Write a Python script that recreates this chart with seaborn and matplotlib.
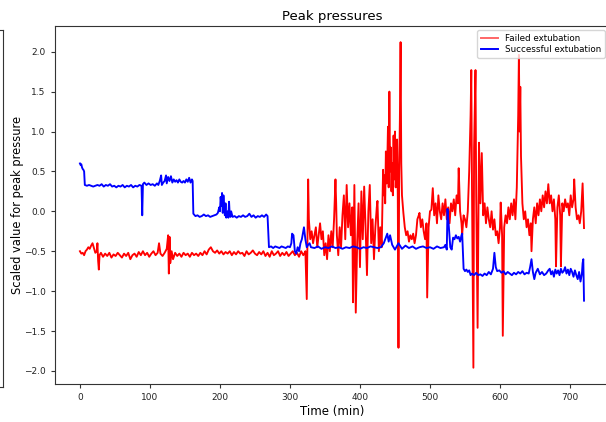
import matplotlib
matplotlib.use("Agg")
import matplotlib.pyplot as plt
import seaborn as sns
import pandas as pd

# ---- data ----
failed_time = [
    0, 2, 4, 6, 8, 10, 12, 14, 16, 18, 20, 22, 24, 25, 26, 27, 28, 30, 33, 36, 39, 42, 45, 48, 51, 54, 57, 60,
    63, 66, 69, 72, 75, 78, 81, 84, 87, 90, 93, 96, 99, 102, 105, 108, 111, 113, 115, 118, 121, 124, 126, 127,
    128, 129, 131, 133, 136, 139, 142, 145, 148, 151, 154, 157, 160, 163, 166, 169, 172, 175, 178, 181, 184,
    187, 190, 193, 196, 199, 202, 205, 208, 211, 214, 217, 220, 223, 226, 229, 232, 235, 238, 241, 244, 247,
    250, 253, 256, 259, 262, 265, 268, 271, 274, 277, 280, 283, 286, 289, 292, 295, 298, 301, 304, 307, 310,
    313, 316, 319, 321,
    322, 324, 326, 327, 329, 331, 333, 335, 337, 339, 341, 343, 345, 347, 349, 351, 353, 355, 357, 359, 361,
    363, 365, 366, 367, 369, 371, 373, 375, 377, 379, 381, 383, 385, 387, 389, 390, 392, 394, 396, 398, 400,
    402, 404, 406, 408, 410, 412, 414, 416, 418, 420, 422, 424, 425, 427, 429, 431,
    433, 434, 435, 436, 437, 438, 439, 440, 441, 442, 443, 444, 445, 446, 447, 448, 449, 450, 451, 452, 453,
    454, 455, 456, 457, 458, 459, 460,
    462, 464, 466, 468, 470, 472, 474, 476,
    478, 480, 482, 484, 485, 487, 489, 491, 493, 495, 496, 498, 500, 502, 504, 506, 508, 510, 512, 514, 516,
    518, 520, 522, 524, 526, 528, 530, 532, 534, 536, 538, 540, 541, 543, 545, 546, 548, 550, 552, 554, 556,
    558, 559, 560, 562, 563, 565, 566, 568, 570, 572, 574, 576, 578, 580, 582, 584, 586, 588, 590, 592, 594,
    596, 598, 600, 601, 603, 604, 606, 608, 610, 612, 614, 616, 618, 620, 622, 624, 626, 627, 628, 629, 630,
    632, 634, 636, 638, 640, 642, 644, 645, 647, 649, 651, 653, 655, 657, 659, 661, 663, 665, 667, 669, 671,
    673, 675, 677, 679, 680, 682, 684, 686, 687, 689, 691, 693, 695, 697, 699, 701, 703, 705, 706, 708, 710,
    712, 714, 716, 718, 720,
]
failed_value = [
    -0.50, -0.53, -0.52, -0.55, -0.50, -0.48, -0.45, -0.47, -0.43, -0.40, -0.46, -0.52, -0.50, -0.40, -0.62,
    -0.73, -0.55, -0.52, -0.57, -0.53, -0.56, -0.52, -0.58, -0.54, -0.56, -0.52, -0.55, -0.58, -0.53, -0.56,
    -0.52, -0.60, -0.55, -0.53, -0.57, -0.51, -0.55, -0.50, -0.55, -0.52, -0.57, -0.53, -0.50, -0.55, -0.52,
    -0.40, -0.53, -0.56, -0.52, -0.47, -0.30, -0.78, -0.32, -0.65, -0.50, -0.60, -0.52, -0.56, -0.53, -0.57,
    -0.52, -0.55, -0.53, -0.57, -0.52, -0.55, -0.53, -0.56, -0.52, -0.55, -0.50, -0.54, -0.48, -0.45, -0.50,
    -0.52, -0.49, -0.53, -0.50, -0.54, -0.51, -0.53, -0.50, -0.55, -0.51, -0.54, -0.50, -0.53, -0.52, -0.56,
    -0.50, -0.54, -0.52, -0.49, -0.53, -0.55, -0.51, -0.54, -0.50, -0.56, -0.52, -0.57, -0.50, -0.55, -0.53,
    -0.50, -0.56, -0.52, -0.55, -0.51, -0.56, -0.53, -0.50, -0.55, -0.52, -0.57, -0.50, -0.55, -0.52,
    -0.50, -1.10, 0.40, -0.10, -0.35, -0.25, -0.40, -0.30, -0.20, -0.45, -0.30, -0.15, -0.35, -0.25, -0.55,
    -0.40, -0.60, -0.30, -0.50, -0.25, -0.45, -0.10, 0.40, 0.10, -0.30, -0.55, -0.20, -0.45, -0.05, 0.20,
    -0.35, 0.33, -0.20, 0.10, -0.30, 0.05, -1.14, 0.33, -1.27, -0.40, 0.10, -0.70, 0.25, -0.35, 0.31, -0.20,
    -0.80, 0.00, 0.33, -0.40, -0.10, -0.60, -0.20, 0.05, 0.13, -0.50, -0.20, -0.45,
    0.52, 0.20, 0.45, 0.10, 0.75, 0.35, 0.60, 1.06, 0.30, 1.50, 0.50, 0.80, 0.25, 0.60, 0.20, 0.95, 0.40,
    1.00, 0.30, 0.70, 0.90, 0.20, -1.71, 0.50, 1.15, 2.12, 0.60, 0.20,
    -0.02, -0.20, -0.30, -0.25, -0.38, -0.30, -0.35, -0.28,
    -0.40, -0.30, -0.10, -0.05, -0.02, -0.20, -0.10, -0.25, -0.35, -0.15,
    -1.08, -0.20, 0.00, 0.02, 0.29, -0.05, 0.10, -0.15, 0.20, 0.00, -0.10, 0.10, -0.05, 0.15, -0.10, 0.05,
    -0.15, 0.10, 0.00, 0.15, -0.05, 0.20, 0.10, 0.54, 0.00, -0.15, -0.29, -0.05, -0.10, -0.20, 0.00, 0.50,
    1.20, 1.77, 0.30, -1.96, 0.80, 1.77, 0.20, -1.46, 0.86, 0.10, 0.73, -0.05, 0.10, -0.15, 0.05, -0.10,
    -0.20, 0.00, -0.23, -0.10, -0.30, -0.25, -0.40, -0.20, 0.11, -0.30, -1.56, -0.20, -0.05, -0.15, 0.05,
    -0.10, 0.10, -0.05, 0.15, -0.10, 0.30, 1.20, 1.96, 1.00, 1.56, 0.69, 0.10, -0.10, 0.00, -0.20, -0.10,
    -0.30, -0.15, -0.50, -0.10, 0.05, -0.15, 0.10, -0.05, 0.15, 0.00, 0.20, 0.05, 0.25, 0.10, 0.34, 0.10,
    0.20, 0.00, 0.15, -0.10, -0.69, 0.05, 0.20, -0.05, -0.69, 0.10, 0.00, 0.15, 0.05, 0.10, -0.05, 0.20,
    0.05, 0.15, 0.40, 0.05, -0.10, -0.05, -0.15, 0.00, 0.35, -0.21,
]

success_time = [
    0, 1, 2, 3, 4, 5, 6, 7, 10, 13, 16, 19, 22, 25, 28, 31, 34, 37, 40, 43, 46, 49, 52, 55, 58, 61, 64, 67,
    70, 73, 76, 79, 82, 85, 88, 89, 90, 92, 95, 98, 101, 104, 107, 110, 112, 114, 116, 117, 119, 121, 123,
    124, 126, 128, 130, 132, 134, 136, 138, 140, 142, 144, 146, 148, 150, 152, 154, 156, 158, 160, 161, 162,
    165, 168, 171, 174, 177, 180, 183, 186, 189, 192, 195, 197, 199, 200, 201, 202, 203, 204, 205, 206, 207,
    208, 209, 210, 211, 212, 213, 214, 215, 216, 218, 221, 224, 227, 230, 233, 236, 239, 242, 245, 248, 251,
    254, 257, 260, 263, 266, 268, 270, 273, 276, 279, 282, 285, 288, 291, 294, 297, 300, 302, 303, 305, 307,
    309, 311, 313, 315, 317, 319, 320, 322, 324, 326, 328, 330, 335, 340, 345, 350, 355, 360, 365, 370, 375,
    380, 385, 390, 395, 400, 405, 410, 415, 420, 425, 430, 434, 437, 439, 441, 443, 446, 450, 455, 460, 465,
    470, 475, 480, 485, 490, 495, 500, 505, 510, 515, 520, 522, 524, 525, 527, 529, 531, 533, 535, 537, 539,
    541, 543, 545, 546, 548, 550, 552, 554, 556, 558, 560, 563, 566, 569, 572, 575, 578, 581, 584, 587, 590,
    592, 594, 596, 599, 602, 605, 608, 611, 614, 617, 620, 623, 626, 629, 632, 635, 638, 641, 643, 645, 647,
    649, 651, 654, 657, 660, 663, 666, 669, 671, 673, 675, 677, 679, 681, 683, 685, 687, 689, 691, 693, 695,
    697, 699, 701, 703, 705, 707, 709, 711, 713, 715, 717, 718, 719, 720,
]
success_value = [
    0.60, 0.58, 0.59, 0.55, 0.53, 0.52, 0.50, 0.33, 0.32, 0.33, 0.32, 0.31, 0.32, 0.33, 0.32, 0.34, 0.31,
    0.33, 0.32, 0.34, 0.31, 0.32, 0.30, 0.32, 0.31, 0.33, 0.30, 0.32, 0.31, 0.33, 0.30, 0.32, 0.31, 0.33,
    0.32, -0.05, 0.34, 0.36, 0.33, 0.35, 0.33, 0.34, 0.32, 0.35, 0.33, 0.38, 0.45, 0.33, 0.36, 0.38, 0.45,
    0.35, 0.43, 0.38, 0.44, 0.36, 0.40, 0.37, 0.39, 0.36, 0.40, 0.37, 0.36, 0.38, 0.36, 0.40, 0.37, 0.42,
    0.36, 0.40, 0.38, -0.03, -0.06, -0.05, -0.07, -0.06, -0.04, -0.06, -0.05, -0.07, -0.06, -0.05, -0.04,
    -0.02, 0.05, 0.00, 0.18, 0.07, 0.23, -0.02, 0.20, 0.05, -0.05, 0.10, -0.08, -0.03, 0.00, -0.08, 0.12,
    -0.05, -0.07, 0.00, -0.07, -0.06, -0.08, -0.06, -0.07, -0.05, -0.07, -0.06, -0.03, -0.07, -0.05, -0.08,
    -0.06, -0.07, -0.05, -0.07, -0.04, -0.06, -0.45, -0.44, -0.46, -0.44, -0.45, -0.46, -0.44, -0.45, -0.46,
    -0.44, -0.45, -0.40, -0.28, -0.30, -0.50, -0.53, -0.45, -0.50, -0.40, -0.35, -0.25, -0.20, -0.35, -0.45,
    -0.42, -0.40, -0.45, -0.46, -0.44, -0.47, -0.45, -0.46, -0.44, -0.46, -0.45, -0.47, -0.45, -0.46, -0.44,
    -0.45, -0.47, -0.45, -0.46, -0.44, -0.45, -0.46, -0.45, -0.40, -0.33, -0.28, -0.38, -0.30, -0.42, -0.48,
    -0.40, -0.47, -0.43, -0.46, -0.44, -0.47, -0.45, -0.44, -0.46, -0.45, -0.47, -0.44, -0.46, -0.45, -0.42,
    -0.48, 0.03, -0.20, -0.45, -0.48, -0.33, -0.35, -0.30, -0.34, -0.32, -0.38, -0.30, -0.28, -0.72, -0.75,
    -0.73, -0.76, -0.74, -0.80, -0.78, -0.80, -0.77, -0.80, -0.79, -0.81, -0.78, -0.80, -0.76, -0.79, -0.72,
    -0.52, -0.70, -0.75, -0.74, -0.77, -0.75, -0.79, -0.76, -0.78, -0.80, -0.77, -0.79, -0.76, -0.78, -0.75,
    -0.79, -0.77, -0.78, -0.70, -0.60, -0.76, -0.85, -0.77, -0.72, -0.79, -0.76, -0.80, -0.78, -0.74, -0.72,
    -0.79, -0.75, -0.82, -0.73, -0.78, -0.74, -0.80, -0.72, -0.77, -0.75, -0.70, -0.78, -0.73, -0.80, -0.72,
    -0.76, -0.82, -0.74, -0.80, -0.85, -0.76, -0.88, -0.78, -0.65, -0.60, -1.12,
]

series_labels = ["Failed extubation", "Successful extubation"]
title_text = "Peak pressures"
x_label = "Time (min)"
y_label = "Scaled value for peak pressure"

df = pd.concat([
    pd.DataFrame({"time": failed_time, "value": failed_value, "group": series_labels[0]}),
    pd.DataFrame({"time": success_time, "value": success_value, "group": series_labels[1]}),
], ignore_index=True)

fig = plt.figure(figsize=(6.06, 4.22), dpi=100)

# cropped neighbouring panel frame at the far left
ax_left = fig.add_axes([-0.2, 0.083, 0.205, 0.846])
ax_left.set_xticks([])
ax_left.set_yticks([])
for s in ax_left.spines.values():
    s.set_color("#333333")
    s.set_linewidth(0.8)

ax = fig.add_axes([0.0903, 0.0893, 0.915, 0.8498])
sns.lineplot(data=df, x="time", y="value", hue="group", hue_order=series_labels,
             palette={series_labels[0]: "red", series_labels[1]: "blue"},
             estimator=None, sort=False, linewidth=1.35, ax=ax)

ax.set_xlim(-36, 756)
ax.set_ylim(-2.168, 2.326)
ax.set_xticks([0, 100, 200, 300, 400, 500, 600, 700])
ax.set_yticks([-2.0, -1.5, -1.0, -0.5, 0.0, 0.5, 1.0, 1.5, 2.0])
ax.tick_params(labelsize=6.5, length=3, width=0.8, colors="#333333", labelcolor="#222222")
for s in ax.spines.values():
    s.set_color("#333333")
    s.set_linewidth(0.8)
ax.set_title(title_text, fontsize=9.5, pad=4)
ax.set_xlabel(x_label, fontsize=8.5, labelpad=2)
ax.set_ylabel(y_label, fontsize=8.3, labelpad=0)

leg = ax.legend(loc="upper right", fontsize=6.3, frameon=True, borderpad=0.4,
                handlelength=2.0, labelspacing=0.3)
leg.get_lines()[0].set_alpha(0.6)
for line in leg.get_lines():
    line.set_linewidth(1.4)

fig.savefig("out.png", dpi=100)
